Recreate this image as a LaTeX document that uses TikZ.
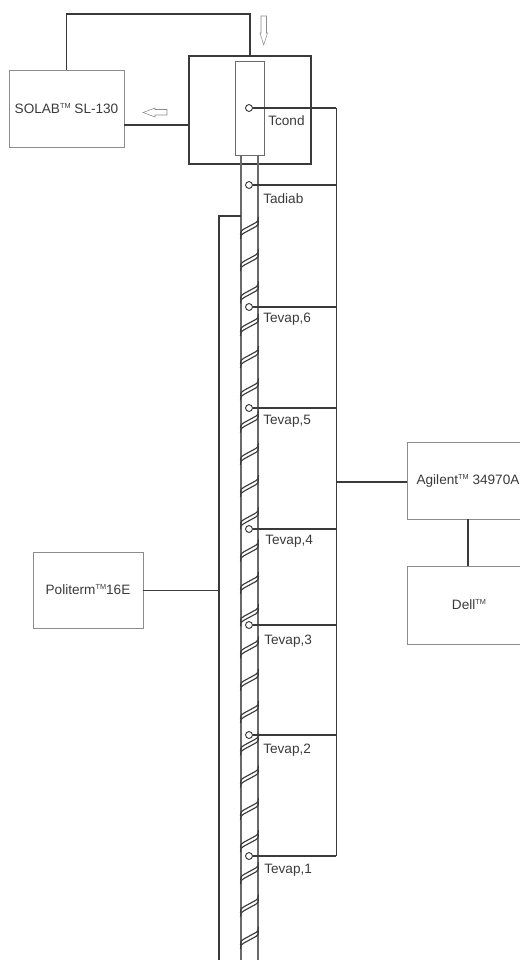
\documentclass[tikz,border=0pt]{standalone}
\usepackage{fontspec}
\setmainfont{Liberation Sans}
\definecolor{wirecol}{HTML}{3A3A3A}
\definecolor{boxcol}{HTML}{8C8C8C}
\definecolor{tubecol}{HTML}{6A6A6A}
\tikzset{
  unitbox/.style={draw=boxcol, line width=0.6pt, inner sep=0pt, align=center, font=\fontsize{10.2}{12}\selectfont, text=wirecol},
  wire/.style={draw=wirecol, line width=0.9pt},
  thinwire/.style={draw=wirecol, line width=0.75pt},
  tubewall/.style={draw=tubecol, line width=0.8pt},
  coil/.style={draw=wirecol, line width=0.85pt},
  probe/.style={circle, draw=wirecol, line width=0.7pt, fill=white, inner sep=0pt, minimum size=5.2pt},
  probelabel/.style={anchor=west, inner sep=0pt, font=\fontsize{10.2}{12}\selectfont, text=wirecol},
  flowarrow/.style={draw=boxcol, line width=0.4pt, fill=white},
}
\newcommand{\tm}{\raisebox{3.8pt}{\fontsize{5.5}{6}\selectfont TM}}
\begin{document}
\begin{tikzpicture}[x=0.75pt,y=-0.75pt]
\useasboundingbox (0,0) rectangle (520,960);
% boxes
\node[unitbox, minimum width=86.25pt, minimum height=57.75pt] (solab) at (66.5,108.5) {SOLAB\tm{} SL-130};
\node[draw=wirecol, line width=0.9pt, inner sep=0pt, minimum width=91.5pt, minimum height=81pt] (cond) at (250,110) {};
\node[unitbox, minimum width=82.5pt, minimum height=57pt] (politerm) at (88,590) {Politerm\tm{}16E};
\node[unitbox, minimum width=91.5pt, minimum height=57.75pt] (agilent) at (468,480.5) {Agilent\tm{} 34970A};
\node[unitbox, minimum width=93pt, minimum height=58.5pt] (dell) at (469,605) {Dell\tm{}};
% tube
\draw[tubewall] (241,155) -- (241,960);
\draw[tubewall] (258,155) -- (258,960);
\node[draw=tubecol, line width=0.7pt, fill=white, inner sep=0pt, minimum width=21.75pt, minimum height=70.5pt] (inner) at (249.5,108.5) {};
% heater winding
\foreach \k in {0,...,22} {
  \pgfmathsetmacro{\ytop}{217+32.27*\k}
  \draw[coil] (240.5,\ytop+18) .. controls (240.5,\ytop+14) and (242,\ytop+13) .. (244,\ytop+12) -- (256,\ytop+5.5) .. controls (258,\ytop+4.5) and (258.5,\ytop+3) .. (258.5,\ytop);
  \draw[coil] (240.5,\ytop+22) .. controls (240.5,\ytop+18) and (242,\ytop+17) .. (244,\ytop+16) -- (256,\ytop+9.5) .. controls (258,\ytop+8.5) and (258.5,\ytop+7) .. (258.5,\ytop+4);
}
% probes
\coordinate (bus) at (336,108);
\coordinate (busend) at (336,856);
\foreach \nm/\yy/\lbx/\lby/\txt in {cd/108/268/120.5/Tcond,ad/185/263/199/Tadiab,e6/307/263/319/{Tevap,6},e5/408/263/421.5/{Tevap,5},e4/529/265/541.5/{Tevap,4},e3/625/264/641.5/{Tevap,3},e2/735/263/750/{Tevap,2},e1/856/264/870.5/{Tevap,1}} {
  \node[probe] (\nm) at (249,\yy) {};
  \coordinate (bus\nm) at (336,\yy);
  \draw[wire] (\nm) -- (bus\nm);
  \node[probelabel] (lb\nm) at (\lbx,\lby) {\txt};
}
\draw[thinwire] (bus) -- (busend);
% connections
\coordinate (loopa) at (66.5,14);
\coordinate (loopb) at (250,14);
\draw[wire] (solab.north -| loopa) -- (loopa) -- (loopb) -- (cond.north -| loopb);
\coordinate (solabout) at (124,125);
\draw[wire] (solabout) -- (solabout -| cond.west);
\coordinate (busag) at (336,482);
\draw[wire] (busag) -- (busag -| agilent.west);
\draw[wire] (agilent.south) -- (agilent.south |- dell.north);
\draw[thinwire] (politerm.east) -- (219,590);
\coordinate (hta) at (241,216);
\coordinate (htb) at (219,216);
\coordinate (htc) at (219,960);
\draw[wire] (hta) -- (htb) -- (htc);
% flow arrows
\draw[flowarrow] (261,16) -- (266.5,16) -- (266.5,33) -- (267.5,33) -- (263.7,45) -- (260,33) -- (261,33) -- cycle;
\draw[flowarrow] (167,109.5) -- (155,109.5) -- (155,108) -- (143,112.5) -- (155,117) -- (155,115) -- (167,115) -- cycle;
\end{tikzpicture}
\end{document}
